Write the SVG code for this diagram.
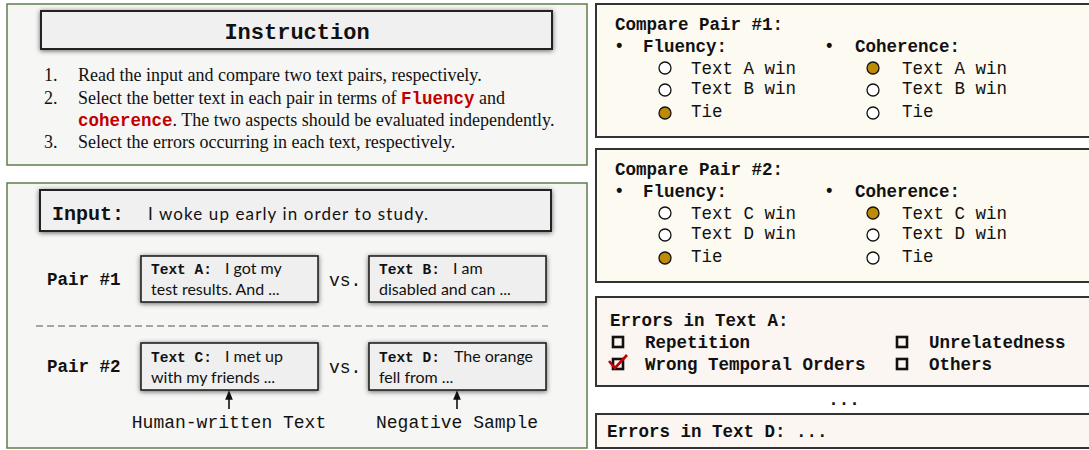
<svg xmlns="http://www.w3.org/2000/svg" width="1089" height="450" viewBox="0 0 1089 450">
<defs>
<filter id="sh" x="-10%" y="-30%" width="120%" height="160%">
<feGaussianBlur in="SourceAlpha" stdDeviation="2.5"/>
<feOffset dx="0" dy="1" result="b"/>
<feComponentTransfer><feFuncA type="linear" slope="0.6"/></feComponentTransfer>
<feMerge><feMergeNode/><feMergeNode in="SourceGraphic"/></feMerge>
</filter>
<marker id="ah" viewBox="0 0 10 10" refX="5" refY="5" markerWidth="6" markerHeight="6" orient="auto">
<path d="M0,1 L10,5 L0,9 z" fill="#111"/>
</marker>
</defs>
<style>
.gpanel{fill:#f6f6f4;stroke:#5d7f4e;stroke-width:1.5}
.hbox{fill:#f0f0f0;stroke:#222;stroke-width:2}
.tbox{fill:#efefef;stroke:#222;stroke-width:1.6}
.cpanel{fill:#fdfaf1;stroke:#333;stroke-width:2}
.epanel{fill:#fcf6f3;stroke:#333;stroke-width:2}
.mono{font-family:"Liberation Mono",monospace;fill:#111}
.b{font-weight:bold}
.serif{font-family:"Liberation Serif",serif;font-size:18px;fill:#111}
.hand{font-family:"Lato","Noto Sans",sans-serif;fill:#111}
.red{fill:#c00000;font-weight:bold;font-family:"Liberation Mono",monospace}
.ro{fill:#fff;stroke:#111;stroke-width:1.3}
.rf{fill:#bd8b05;stroke:#111;stroke-width:1.3}
.cb{fill:none;stroke:#111;stroke-width:2.6}
</style>

<g id="instruction-panel">
<rect class="gpanel" x="7" y="4" width="580" height="161"/>
<rect class="hbox" x="41" y="11" width="511" height="38" filter="url(#sh)"/>
<text class="mono b" x="297" y="39" font-size="22" text-anchor="middle">Instruction</text>
<text class="serif" x="44" y="81">1.</text>
<text class="serif" x="78" y="81">Read the input and compare two text pairs, respectively.</text>
<text class="serif" x="44" y="104">2.</text>
<text class="serif" x="78" y="104">Select the better text in each pair in terms of <tspan class="red" font-size="17.5">Fluency</tspan> and</text>
<text class="serif" x="78" y="126"><tspan class="red" font-size="17.5">coherence</tspan>. The two aspects should be evaluated independently.</text>
<text class="serif" x="44" y="148">3.</text>
<text class="serif" x="78" y="148">Select the errors occurring in each text, respectively.</text>
</g>

<g id="input-panel">
<rect class="gpanel" x="7" y="183" width="580" height="265"/>
<rect class="hbox" x="40" y="190" width="511" height="41" filter="url(#sh)"/>
<text x="52" y="220"><tspan class="mono b" font-size="20">Input:</tspan><tspan class="hand" x="148" font-size="17" textLength="280">I woke up early in order to study.</tspan></text>
</g>

<g id="pair1">
<text class="mono b" x="47" y="285" font-size="17.5">Pair #1</text>
<text class="mono" x="329" y="286" font-size="18">vs.</text>
</g>
<g id="textA">
<rect class="tbox" x="141" y="256" width="177" height="46" filter="url(#sh)"/>
<text x="151" y="274"><tspan class="mono b" font-size="14.5">Text A:</tspan><tspan class="hand" x="225" font-size="16">I got my</tspan></text>
<text class="hand" x="151" y="295" font-size="16">test results. And ...</text>
</g>
<g id="textB">
<rect class="tbox" x="369" y="256" width="177" height="46" filter="url(#sh)"/>
<text x="379" y="274"><tspan class="mono b" font-size="14.5">Text B:</tspan><tspan class="hand" x="453" font-size="16">I am</tspan></text>
<text class="hand" x="379" y="295" font-size="16">disabled and can ...</text>
</g>

<g id="separator">
<line x1="36" y1="326" x2="548" y2="326" stroke="#555" stroke-width="1.2" stroke-dasharray="7,4"/>
</g>

<g id="pair2">
<text class="mono b" x="47" y="372" font-size="17.5">Pair #2</text>
<text class="mono" x="329" y="373" font-size="18">vs.</text>
</g>
<g id="textC">
<rect class="tbox" x="141" y="343" width="177" height="47" filter="url(#sh)"/>
<text x="151" y="362"><tspan class="mono b" font-size="14.5">Text C:</tspan><tspan class="hand" x="225" font-size="16">I met up</tspan></text>
<text class="hand" x="151" y="383" font-size="16">with my friends ...</text>
</g>
<g id="textD">
<rect class="tbox" x="369" y="343" width="177" height="47" filter="url(#sh)"/>
<text x="379" y="362"><tspan class="mono b" font-size="14.5">Text D:</tspan><tspan class="hand" x="454" font-size="16">The orange</tspan></text>
<text class="hand" x="379" y="383" font-size="16">fell from ...</text>
</g>

<g id="label-human">
<text class="mono" x="229" y="428" font-size="18" text-anchor="middle">Human-written Text</text>
</g>
<g id="label-negative">
<text class="mono" x="457" y="428" font-size="18" text-anchor="middle">Negative Sample</text>
</g>

<g id="connectors">
<line x1="229" y1="409" x2="229" y2="395" stroke="#111" stroke-width="1.6" marker-end="url(#ah)"/>
<line x1="457" y1="409" x2="457" y2="395" stroke="#111" stroke-width="1.6" marker-end="url(#ah)"/>
</g>

<g id="compare-pair1">
<rect class="cpanel" x="596" y="4" width="500" height="133"/>
<text class="mono b" x="615" y="30" font-size="17.5">Compare Pair #1:</text>
<text class="mono b" x="614" y="52" font-size="17.5">•</text>
<text class="mono b" x="643" y="52" font-size="17.5">Fluency:</text>
<text class="mono b" x="824" y="52" font-size="17.5">•</text>
<text class="mono b" x="855" y="52" font-size="17.5">Coherence:</text>
<circle class="ro" cx="665" cy="68" r="6"/>
<circle class="ro" cx="665" cy="90" r="6"/>
<circle class="rf" cx="665" cy="113" r="6"/>
<text class="mono" x="691" y="74" font-size="17.5">Text A win</text>
<text class="mono" x="691" y="94" font-size="17.5">Text B win</text>
<text class="mono" x="691" y="117" font-size="17.5">Tie</text>
<circle class="rf" cx="873" cy="68" r="6"/>
<circle class="ro" cx="873" cy="90" r="6"/>
<circle class="ro" cx="873" cy="113" r="6"/>
<text class="mono" x="902" y="74" font-size="17.5">Text A win</text>
<text class="mono" x="902" y="94" font-size="17.5">Text B win</text>
<text class="mono" x="902" y="117" font-size="17.5">Tie</text>
</g>

<g id="compare-pair2">
<rect class="cpanel" x="596" y="149" width="500" height="133"/>
<text class="mono b" x="615" y="175" font-size="17.5">Compare Pair #2:</text>
<text class="mono b" x="614" y="197" font-size="17.5">•</text>
<text class="mono b" x="643" y="197" font-size="17.5">Fluency:</text>
<text class="mono b" x="824" y="197" font-size="17.5">•</text>
<text class="mono b" x="855" y="197" font-size="17.5">Coherence:</text>
<circle class="ro" cx="665" cy="213" r="6"/>
<circle class="ro" cx="665" cy="235" r="6"/>
<circle class="rf" cx="665" cy="258" r="6"/>
<text class="mono" x="691" y="219" font-size="17.5">Text C win</text>
<text class="mono" x="691" y="239" font-size="17.5">Text D win</text>
<text class="mono" x="691" y="262" font-size="17.5">Tie</text>
<circle class="rf" cx="873" cy="213" r="6"/>
<circle class="ro" cx="873" cy="235" r="6"/>
<circle class="ro" cx="873" cy="258" r="6"/>
<text class="mono" x="902" y="219" font-size="17.5">Text C win</text>
<text class="mono" x="902" y="239" font-size="17.5">Text D win</text>
<text class="mono" x="902" y="262" font-size="17.5">Tie</text>
</g>

<g id="errors-textA">
<rect class="epanel" x="596" y="297" width="500" height="89"/>
<text class="mono b" x="610" y="326" font-size="17.5">Errors in Text A:</text>
<rect class="cb" x="613" y="337" width="10" height="10"/>
<text class="mono b" x="645" y="348" font-size="17.5">Repetition</text>
<rect class="cb" x="613" y="359" width="10" height="10"/>
<path d="M609,361 L615,368 L627,355" fill="none" stroke="#c00000" stroke-width="2.6"/>
<text class="mono b" x="645" y="370" font-size="17.5">Wrong Temporal Orders</text>
<rect class="cb" x="897" y="337" width="10" height="10"/>
<text class="mono b" x="929" y="348" font-size="17.5">Unrelatedness</text>
<rect class="cb" x="897" y="359" width="10" height="10"/>
<text class="mono b" x="929" y="370" font-size="17.5">Others</text>
</g>

<g id="ellipsis">
<text class="mono b" x="844" y="405" font-size="17.5" text-anchor="middle">...</text>
</g>

<g id="errors-textD">
<rect class="epanel" x="596" y="414" width="500" height="34"/>
<text class="mono b" x="607" y="437" font-size="17.5">Errors in Text D: ...</text>
</g>
</svg>
